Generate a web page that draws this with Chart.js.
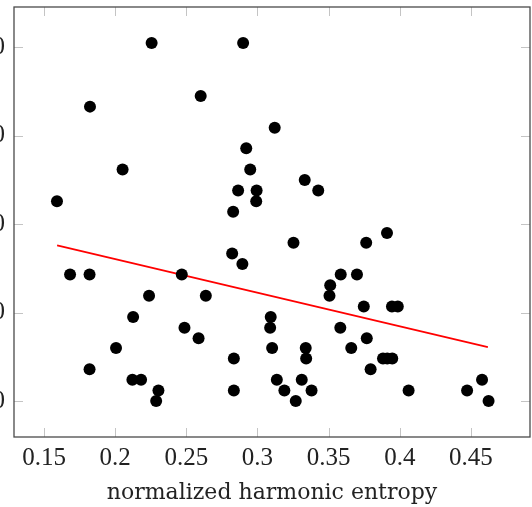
<!DOCTYPE html>
<html>
<head>
<meta charset="utf-8">
<script src="https://cdn.jsdelivr.net/npm/chart.js@4"></script>
<style>
  html, body { margin: 0; padding: 0; background: #fff; overflow: hidden; }
  #wrap { position: absolute; left: -50px; top: 0; }
</style>
</head>
<body>
<div id="wrap"><canvas id="entropyChart" width="582" height="507"></canvas></div>
<script>
// Values
const entropy = [
    0.2256, 0.2899, 0.1823, 0.2601, 0.2052, 0.1591, 0.3121, 0.2921, 0.2949, 0.3332,
    0.3427, 0.2864, 0.2994, 0.2991, 0.2829, 0.1683, 0.1820, 0.2468, 0.2238, 0.2126,
    0.2487, 0.2586, 0.2006, 0.1820, 0.2121, 0.2182, 0.2304, 0.2288, 0.3253, 0.3764,
    0.2822, 0.2894, 0.3585, 0.3699, 0.3511, 0.3506, 0.2637, 0.3747, 0.3093, 0.3089,
    0.3582, 0.3768, 0.3103, 0.3339, 0.3659, 0.3342, 0.2834, 0.3795, 0.3136, 0.3311,
    0.2834, 0.3189, 0.3380, 0.3269, 0.3910, 0.3945, 0.3986, 0.3882, 0.3912, 0.3947,
    0.4062, 0.4473, 0.4578, 0.4624
];
const score = [
    40.5, 40.5, 33.3, 34.5, 26.2, 22.6, 30.9, 28.6, 26.2, 25.0,
    23.8, 23.8, 23.8, 22.6, 21.4, 14.3, 14.3, 14.3, 11.9, 9.5,
    8.3, 7.1, 6.0, 3.6, 2.4, 2.4, 1.2, 0, 17.9, 17.9,
    16.7, 15.5, 14.3, 14.3, 13.1, 11.9, 11.9, 10.7, 9.5, 8.3,
    8.3, 7.1, 6.0, 6.0, 6.0, 4.8, 4.8, 3.6, 2.4, 2.4,
    1.2, 1.2, 1.2, 0, 19.0, 10.7, 10.7, 4.8, 4.8, 4.8,
    1.2, 1.2, 2.4, 0
];
// regression line end points
const fitX = [0.1592, 0.4619];
const fitY = [17.6, 6.1];

const xTicks = [0.15, 0.2, 0.25, 0.3, 0.35, 0.4, 0.45];
const yTicks = [0, 10, 20, 30, 40];
const xTitle = 'normalized harmonic entropy';

const serif = '"Liberation Serif", "DejaVu Serif", serif';

// pgfplots-style frame with small ticks pointing inwards
const frameBox = {
    id: 'frameBox',
    afterDatasetsDraw(chart) {
        const { ctx, chartArea: a, scales } = chart;
        const len = 9;
        ctx.save();
        ctx.strokeStyle = '#c4c4c4';
        ctx.lineWidth = 1;
        ctx.beginPath();
        xTicks.forEach(v => {
            const x = Math.round(scales.x.getPixelForValue(v)) + 0.5;
            ctx.moveTo(x, a.bottom); ctx.lineTo(x, a.bottom - len);
            ctx.moveTo(x, a.top); ctx.lineTo(x, a.top + len);
        });
        yTicks.forEach(v => {
            const y = Math.round(scales.y.getPixelForValue(v)) + 0.5;
            ctx.moveTo(a.left, y); ctx.lineTo(a.left + len, y);
            ctx.moveTo(a.right, y); ctx.lineTo(a.right - len, y);
        });
        ctx.stroke();
        ctx.strokeStyle = '#4a4a4a';
        ctx.lineWidth = 1.3;
        ctx.strokeRect(a.left, a.top, a.right - a.left, a.bottom - a.top);
        ctx.restore();
    }
};

const ctx = document.getElementById('entropyChart').getContext('2d');
new Chart(ctx, {
    type: 'scatter',
    data: {
        datasets: [{
            data: entropy.map((x, i) => ({ x: x, y: score[i] })),
            backgroundColor: '#000',
            borderWidth: 0,
            pointRadius: 6,
            pointHoverRadius: 6,
            order: 1
        }, {
            type: 'line',
            data: fitX.map((x, i) => ({ x: x, y: fitY[i] })),
            borderColor: '#ff0000',
            borderWidth: 1.8,
            pointRadius: 0,
            fill: false,
            showLine: true,
            order: 2
        }]
    },
    options: {
        responsive: false,
        animation: false,
        devicePixelRatio: 1,
        layout: { autoPadding: false, padding: { top: 7, right: 2, left: 0, bottom: 0 } },
        plugins: {
            legend: { display: false },
            tooltip: { enabled: false }
        },
        scales: {
            x: {
                type: 'linear',
                min: 0.1289,
                max: 0.4915,
                grid: { display: false, drawTicks: false },
                border: { display: false },
                afterBuildTicks: (scale) => { scale.ticks = xTicks.map(v => ({ value: v })); },
                afterFit: (scale) => {
                    scale.height = 70;
                    scale.paddingLeft = 0;
                    scale.paddingRight = 0;
                },
                ticks: {
                    padding: 6,
                    color: '#222',
                    font: { family: serif, size: 25 },
                    callback: (v) => String(v)
                },
                title: {
                    display: true,
                    text: xTitle,
                    color: '#222',
                    padding: { top: 0, bottom: 1 },
                    font: { family: '"DejaVu Serif", serif', size: 22 }
                }
            },
            y: {
                type: 'linear',
                min: -4.07,
                max: 44.57,
                grid: { display: false, drawTicks: false },
                border: { display: false },
                afterBuildTicks: (scale) => { scale.ticks = yTicks.map(v => ({ value: v })); },
                afterFit: (scale) => {
                    scale.width = 64;
                    scale.paddingTop = 0;
                    scale.paddingBottom = 0;
                },
                ticks: {
                    padding: 9,
                    color: '#222',
                    font: { family: serif, size: 25 },
                    callback: (v) => String(v)
                }
            }
        }
    },
    plugins: [frameBox]
});
</script>
</body>
</html>
